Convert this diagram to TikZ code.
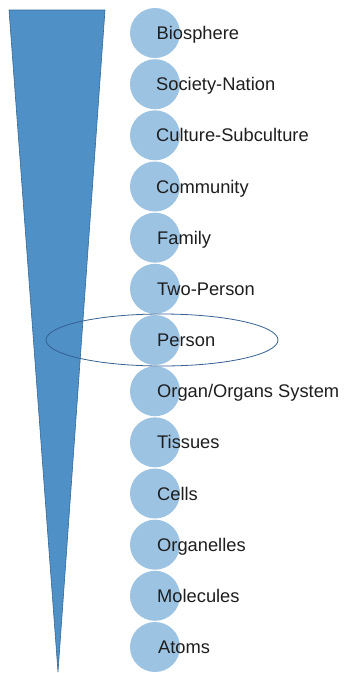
\documentclass[tikz,border=0pt]{standalone}
\usepackage{fontspec}
\setmainfont{Liberation Sans}
\usetikzlibrary{positioning}
\definecolor{funnelblue}{RGB}{79,144,199}
\definecolor{funneledge}{RGB}{52,104,150}
\definecolor{dotblue}{RGB}{157,195,227}
\definecolor{ringblue}{RGB}{52,96,146}
\definecolor{txtgray}{RGB}{30,30,30}
\tikzset{
  x=1pt,y=-1pt,
  funnel/.style={fill=funnelblue,draw=funneledge,line width=0.6pt},
  lvl/.style={circle,fill=dotblue,minimum size=50pt,inner sep=0pt},
  lvltxt/.style={anchor=base west,inner sep=0pt,text=txtgray,
    font=\fontsize{18.3}{22}\selectfont},
  ring/.style={draw=ringblue,line width=0.8pt},
}
\begin{document}
\begin{tikzpicture}
  \useasboundingbox (0,0) rectangle (344,673);
  % the funnel on the left
  \coordinate (ftl) at (9,10);
  \coordinate (ftr) at (105,10);
  \coordinate (fbot) at (58,672);
  \draw[funnel] (ftl) -- (ftr) -- (fbot) -- cycle;
  % column of levels
  \node[lvl] (bio)  at (155,33) {};
  \node[lvl] (soc)  at (155,84.2) {};
  \node[lvl] (cult) at (155,135.3) {};
  \node[lvl] (comm) at (155,186.5) {};
  \node[lvl] (fam)  at (155,237.7) {};
  \node[lvl] (two)  at (155,288.8) {};
  \node[lvl] (pers) at (155,340) {};
  \node[lvl] (org)  at (155,391.2) {};
  \node[lvl] (tis)  at (155,442.3) {};
  \node[lvl] (cel)  at (155,493.5) {};
  \node[lvl] (orgl) at (155,544.7) {};
  \node[lvl] (mol)  at (155,595.8) {};
  \node[lvl] (atm)  at (155,647) {};
  % labels
  \node[lvltxt] (tbio)  at ([xshift=1.5pt,yshift=-6.5pt]bio.center)  {Biosphere};
  \node[lvltxt] (tsoc)  at ([xshift=1pt,yshift=-6.5pt]soc.center)  {Society-Nation};
  \node[lvltxt] (tcult) at ([xshift=1pt,yshift=-6.5pt]cult.center) {Culture-Subculture};
  \node[lvltxt] (tcomm) at ([xshift=1pt,yshift=-6.5pt]comm.center) {Community};
  \node[lvltxt] (tfam)  at ([xshift=2pt,yshift=-6.5pt]fam.center)  {Family};
  \node[lvltxt] (ttwo)  at ([xshift=2pt,yshift=-6.5pt]two.center)  {Two-Person};
  \node[lvltxt] (tpers) at ([xshift=2pt,yshift=-6.5pt]pers.center) {Person};
  \node[lvltxt] (torg)  at ([xshift=2pt,yshift=-6.5pt]org.center)  {Organ/Organs System};
  \node[lvltxt] (ttis)  at ([xshift=2pt,yshift=-6.5pt]tis.center)  {Tissues};
  \node[lvltxt] (tcel)  at ([xshift=2pt,yshift=-6.5pt]cel.center)  {Cells};
  \node[lvltxt] (torgl) at ([xshift=2pt,yshift=-6.5pt]orgl.center) {Organelles};
  \node[lvltxt] (tmol)  at ([xshift=2pt,yshift=-6.5pt]mol.center)  {Molecules};
  \node[lvltxt] (tatm)  at ([xshift=3pt,yshift=-6.5pt]atm.center)  {Atoms};
  % ring round the person level
  \draw[ring] ([xshift=7pt]pers.center) ellipse [x radius=116, y radius=26];
\end{tikzpicture}
\end{document}
